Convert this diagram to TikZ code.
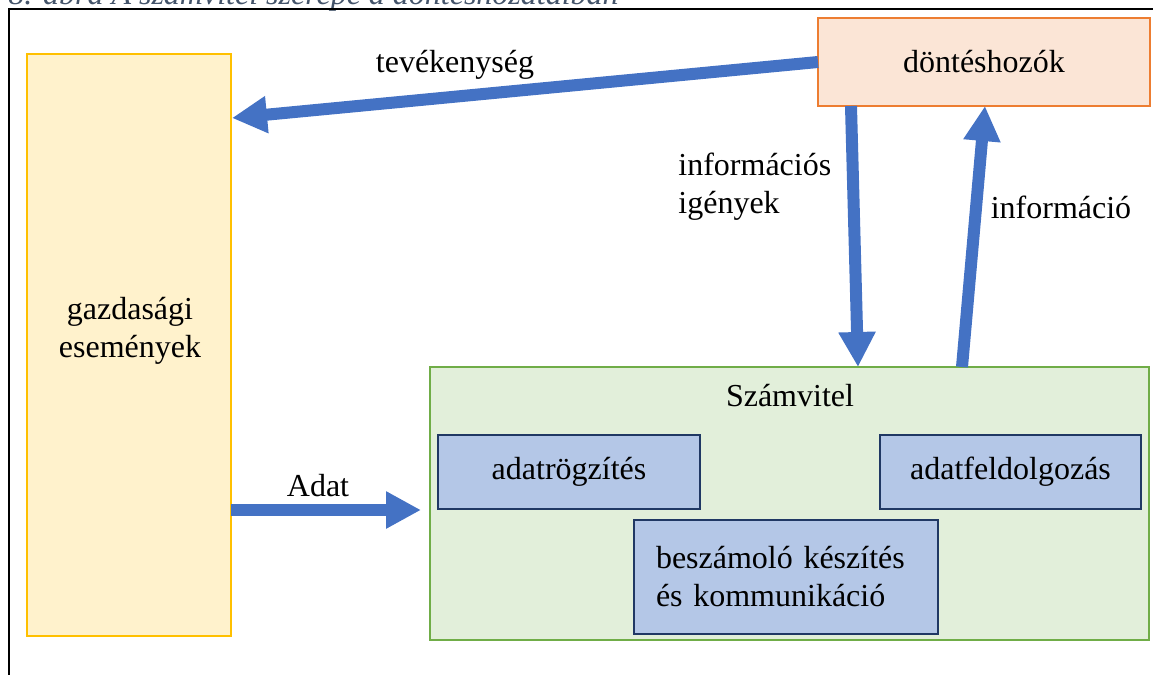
\documentclass[tikz,border=0pt]{standalone}
\usepackage{fontspec}
\setmainfont{Liberation Serif}
\usetikzlibrary{arrows.meta,calc}

\definecolor{evfill}{HTML}{FFF2CC}
\definecolor{evline}{HTML}{FFC000}
\definecolor{decfill}{HTML}{FBE5D6}
\definecolor{decline}{HTML}{ED7D31}
\definecolor{accfill}{HTML}{E2EFDA}
\definecolor{accline}{HTML}{70AD47}
\definecolor{taskfill}{HTML}{B4C7E7}
\definecolor{taskline}{HTML}{203864}
\definecolor{flow}{HTML}{4472C4}
\definecolor{captioncol}{HTML}{44546A}

\tikzset{
  box/.style={inner sep=0pt, outer sep=0pt, anchor=north west, line width=1.1pt},
  txt/.style={font=\fontsize{16}{19}\selectfont, inner sep=0pt},
  taskbox/.style={box, draw=taskline, fill=taskfill, line width=1.4pt, txt},
  flowarrow/.style={draw=flow, line width=6pt,
    -{Triangle[length=17.5pt,width=17.5pt]}},
}

\begin{document}
\begin{tikzpicture}[x=0.5pt,y=-0.5pt]
  \clip (0,0) rectangle (1153,675);

  % caption line and frame
  \node[anchor=base west, inner sep=0pt, text=captioncol,
        font=\fontsize{16}{19}\selectfont\itshape] (cap) at (8,4)
        {8. ábra A számvitel szerepe a döntéshozatalban};
  \draw[line width=1pt] (8,9) -- (1153,9);
  \draw[line width=1pt] (9,9) -- (9,675);

  % main boxes
  \node[box, draw=evline, fill=evfill, minimum width=102pt, minimum height=291pt]
        (gaz) at (27,54) {};
  \node[txt, align=center] (gaztxt) at (130,331) {gazdasági\\események};

  \node[box, draw=decline, fill=decfill, minimum width=166pt, minimum height=44pt, txt]
        (dec) at (818,18) {döntéshozók};

  \node[box, draw=accline, fill=accfill, minimum width=359.5pt, minimum height=136.5pt]
        (acc) at (430,367) {};
  \node[txt] (acctxt) at (790,396) {Számvitel};

  \node[taskbox, minimum width=131pt, minimum height=37pt] (rog) at (438,435) {adatrögzítés};
  \node[taskbox, minimum width=130.5pt, minimum height=37pt] (feld) at (880,435) {adatfeldolgozás};
  \node[taskbox, minimum width=152pt, minimum height=57pt, text width=130pt, align=left]
        (besz) at (634,520) {beszámoló készítés\\és kommunikáció};

  % flows
  \draw[flowarrow] (dec.west) -- ($(gaz.north east)+(1,64)$);
  \draw[flowarrow] ($(dec.south west)+(33,0)$) -- ($(acc.north west)+(428,0)$);
  \draw[flowarrow] ($(acc.north west)+(532,0)$) -- ($(dec.south west)+(167,0)$);
  \draw[flowarrow] ($(gaz.north east)+(0,456)$) -- ($(acc.north west)+(-9,143)$);

  % flow labels
  \node[txt] (l1) at (455,65) {tevékenység};
  \node[txt, align=left, anchor=west] (l2) at (678,187) {információs\\igények};
  \node[txt] (l3) at (1061,207) {információ};
  \node[txt] (l4) at (318,486) {Adat};
\end{tikzpicture}
\end{document}
